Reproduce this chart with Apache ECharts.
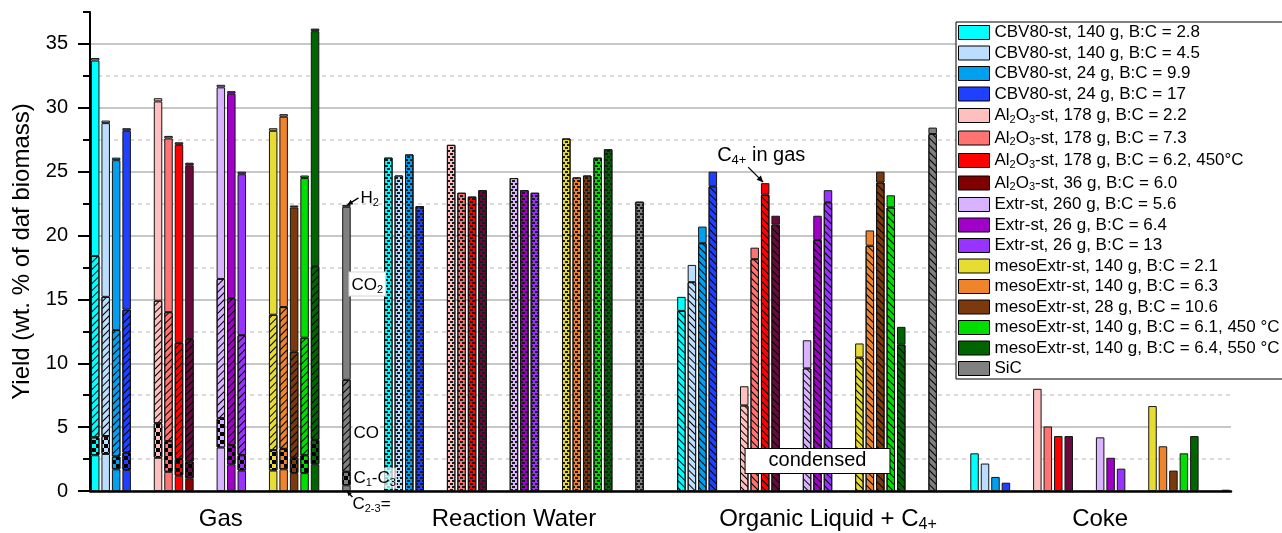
<!DOCTYPE html>
<html><head><meta charset="utf-8">
<script src="https://cdn.jsdelivr.net/npm/echarts@6/dist/echarts.min.js"></script>
<style>html,body{margin:0;padding:0;background:#fff}#c{width:1282px;height:533px}</style>
</head><body><div id="c"></div>
<script>
// ---------------- DATA ----------------
const catalysts = [
  'CBV80-st, 140 g, B:C = 2.8', 'CBV80-st, 140 g, B:C = 4.5', 'CBV80-st, 24 g, B:C = 9.9', 'CBV80-st, 24 g, B:C = 17',
  'Al2O3-st, 178 g, B:C = 2.2', 'Al2O3-st, 178 g, B:C = 7.3', 'Al2O3-st, 178 g, B:C = 6.2, 450°C', 'Al2O3-st, 36 g, B:C = 6.0',
  'Extr-st, 260 g, B:C = 5.6', 'Extr-st, 26 g, B:C = 6.4', 'Extr-st, 26 g, B:C = 13',
  'mesoExtr-st, 140 g, B:C = 2.1', 'mesoExtr-st, 140 g, B:C = 6.3', 'mesoExtr-st, 28 g, B:C = 10.6',
  'mesoExtr-st, 140 g, B:C = 6.1, 450 °C', 'mesoExtr-st, 140 g, B:C = 6.4, 550 °C', 'SiC'
];
const groups = ['Gas', 'Reaction Water', 'Organic Liquid + C4+', 'Coke'];
const yTickLabels = [0, 5, 10, 15, 20, 25, 30, 35];

// Gas composition (stacked, bottom to top)
const gasC23   = [2.8, 2.9, 1.7, 1.65, 2.6, 1.5, 1.2, 1.0, 3.4, 2.1, 1.6, 1.6, 1.7, 1.4, 1.4, 2.1, 0.45];
const gasC1C3  = [1.4, 1.4, 1.0, 1.35, 2.7, 2.4, 1.3, 1.3, 2.3, 1.5, 1.2, 1.6, 1.6, 1.2, 1.4, 1.9, 1.05];
const gasCO    = [14.2, 10.9, 9.9, 11.2, 9.6, 10.1, 9.1, 9.6, 10.9, 11.5, 9.4, 10.6, 11.1, 8.3, 9.2, 13.6, 7.2];
const gasCO2   = [15.3, 13.6, 13.3, 14.0, 15.6, 13.6, 15.5, 13.6, 15.0, 16.0, 12.6, 14.4, 14.9, 11.3, 12.5, 18.4, 13.55];
const gasH2    = [0.2, 0.2, 0.2, 0.2, 0.25, 0.2, 0.2, 0.2, 0.2, 0.2, 0.2, 0.2, 0.2, 0.15, 0.2, 0.2, 0.15];
// Reaction water
const water    = [26.1, 24.7, 26.35, 22.3, 27.1, 23.35, 23.05, 23.55, 24.5, 23.55, 23.35, 27.6, 24.55, 24.7, 26.1, 26.75, 22.65];
// Organic liquid: condensed + C4+ in gas
const olCondensed = [14.1, 16.35, 19.4, 23.85, 6.7, 18.15, 23.2, 20.85, 9.6, 19.65, 22.6, 10.45, 19.2, 24.15, 22.2, 11.45, 27.95];
const olC4Gas     = [1.1, 1.35, 1.3, 1.15, 1.5, 0.9, 0.9, 0.7, 2.2, 1.9, 0.95, 1.1, 1.2, 0.85, 0.95, 1.4, 0.5];
// Coke
const coke     = [2.95, 2.15, 1.1, 0.65, 8.0, 5.05, 4.3, 4.3, 4.2, 2.6, 1.75, 6.65, 3.5, 1.6, 2.95, 4.3, 0.1];

// ---------------- STYLE / LAYOUT ----------------
const barColors = ['#00FFFF', '#BBDDFF', '#00A0F0', '#2040FF', '#FFBFBF', '#FF7373', '#FF0000', '#6A0A3C',
  '#D9B3FF', '#A000C8', '#9933FF', '#E6DC32', '#F0842A', '#7A3A0E', '#00DD00', '#006400', '#808080'];
const legendColors = barColors.slice(); legendColors[7] = '#800000';
const slotInGroup = [0, 1, 2, 3, 6, 7, 8, 9, 12, 13, 14, 17, 18, 19, 20, 21, 24];
const groupStart = [0, 28, 56, 84];
const totalSlots = 109;
const labelSlots = [12, 40, 70, 96];
const FONT = 'Arial, "Liberation Sans", sans-serif';

const hatchFwd  = {symbol: 'rect', symbolSize: 1, dashArrayX: [1, 0], dashArrayY: [1, 4], rotation: -Math.PI / 4, color: '#000'};
const hatchBack = {symbol: 'rect', symbolSize: 1, dashArrayX: [1, 0], dashArrayY: [1, 4], rotation: Math.PI / 4, color: '#000'};
const checker   = {symbol: 'rect', symbolSize: 1, dashArrayX: [[4, 4], [0, 4, 4, 0]], dashArrayY: [4, 0], color: '#000'};
const wave      = {symbol: 'rect', symbolSize: 1, dashArrayX: [[3, 2], [0, 2, 3, 0]], dashArrayY: [2, 1], color: '#1a1a1a'};

const gs = (g, i) => groupStart[g] + slotInGroup[i];
const layers = [
  i => [[gs(0, i), i === 7 ? {value: gasC23[i], itemStyle: {color: '#8B0000'}} : {value: gasC23[i]}],
        [gs(1, i), {value: water[i], itemStyle: {decal: wave}}],
        [gs(2, i), {value: olCondensed[i], itemStyle: {decal: hatchBack}}],
        [gs(3, i), {value: coke[i]}]],
  i => [[gs(0, i), {value: gasC1C3[i], itemStyle: {decal: checker}}],
        [gs(2, i), {value: olC4Gas[i]}]],
  i => [[gs(0, i), {value: gasCO[i], itemStyle: {decal: hatchFwd}}]],
  i => [[gs(0, i), {value: gasCO2[i]}]],
  i => [[gs(0, i), {value: gasH2[i]}]]
];

const series = [];
layers.forEach(fn => {
  catalysts.forEach((name, i) => {
    const data = new Array(totalSlots).fill('-');
    fn(i).forEach(([s, item]) => { data[s] = item; });
    series.push({
      name, type: 'bar', stack: 'all', barWidth: 8.5, data, silent: true,
      itemStyle: {color: barColors[i], borderColor: '#151515', borderWidth: 1},
      emphasis: {disabled: true}
    });
  });
});

const slotNames = Array.from({length: totalSlots}, (_, k) => 's' + k);

const chart = echarts.init(document.getElementById('c'), null, {renderer: 'canvas'});
chart.setOption({
  animation: false,
  textStyle: {fontFamily: FONT},
  grid: {left: 90, right: 51, top: 12, bottom: 42, containLabel: false, outerBoundsMode: 'none'},
  legend: {
    orient: 'vertical', left: 956, top: 22, align: 'left',
    backgroundColor: '#fff', borderColor: '#000', borderWidth: 1, padding: [2, 4, 2, 2],
    itemWidth: 31, itemHeight: 14, itemGap: 3.5, itemTextGap: 5, selectedMode: false,
    icon: 'rect',
    data: catalysts.map((n, i) => ({name: n, itemStyle: {color: legendColors[i], borderColor: '#000', borderWidth: 1}})),
    formatter: n => n.replace('Al2O3', 'Al{s|2}O{s|3}'),
    textStyle: {fontSize: 17, color: '#000', lineHeight: 17, fontFamily: FONT,
      rich: {s: {fontSize: 11, lineHeight: 19, verticalAlign: 'bottom', fontFamily: FONT}}}
  },
  xAxis: {
    type: 'category', data: slotNames, boundaryGap: true,
    axisLine: {show: true, lineStyle: {color: '#000', width: 2.5}},
    axisTick: {show: false}, splitLine: {show: false},
    axisLabel: {
      interval: 0, fontSize: 24, color: '#000', margin: 14, lineHeight: 28, fontFamily: FONT,
      formatter: (v, idx) => { const k = labelSlots.indexOf(idx); return k >= 0 ? groups[k].replace('C4+', 'C{s|4+}') : ''; },
      rich: {s: {fontSize: 16, lineHeight: 28, verticalAlign: 'bottom', fontFamily: FONT}}
    }
  },
  yAxis: [{
    type: 'value', min: 0, max: 37.5, interval: 5,
    name: 'Yield (wt. % of daf biomass)', nameLocation: 'middle', nameGap: 53,
    nameTextStyle: {fontSize: 24, color: '#000', fontFamily: FONT},
    axisLine: {show: true, lineStyle: {color: '#000', width: 2}},
    axisTick: {show: true, length: 12, lineStyle: {color: '#000', width: 2}},
    axisLabel: {fontSize: 20, color: '#000', margin: 22, showMaxLabel: false, fontFamily: FONT,
      formatter: v => yTickLabels.indexOf(v) >= 0 ? String(v) : ''},
    splitLine: {show: true, showMaxLine: false, lineStyle: {color: '#b4b4b4', width: 1.5}}
  }, {
    type: 'value', min: 0, max: 37.5, interval: 2.5, position: 'left',
    axisLine: {show: false},
    axisTick: {show: true, length: 7, lineStyle: {color: '#000', width: 2}},
    axisLabel: {show: false},
    splitLine: {show: true, showMaxLine: false, lineStyle: {color: ['rgba(0,0,0,0)', '#cfcfcf'], type: [4, 4], width: 1.5}}
  }],
  series
});

// ---------------- ANNOTATIONS (positioned through the chart's scales) ----------------
const P = (s, v) => chart.convertToPixel({xAxisIndex: 0, yAxisIndex: 0}, [s, v]);
function arrow(x1, y1, x2, y2, head) {
  head = head || 6;
  const a = Math.atan2(y2 - y1, x2 - x1);
  const p1 = [x2 - head * Math.cos(a - 0.45), y2 - head * Math.sin(a - 0.45)];
  const p2 = [x2 - head * Math.cos(a + 0.45), y2 - head * Math.sin(a + 0.45)];
  return [
    {type: 'line', z: 100, shape: {x1, y1, x2, y2}, style: {stroke: '#000', lineWidth: 1.3}},
    {type: 'polygon', z: 100, shape: {points: [[x2, y2], p1, p2]}, style: {fill: '#000'}}
  ];
}
function txt(x, y, text, size, extra) {
  return {
    type: 'text', z: 101,
    style: Object.assign({
      x, y, text, fill: '#000', fontSize: size, fontFamily: FONT,
      align: 'left', verticalAlign: 'middle', textAlign: 'left', textVerticalAlign: 'middle',
      rich: {s: {fontSize: Math.round(size * 0.65), lineHeight: size + 4, verticalAlign: 'bottom', fontFamily: FONT}},
      lineHeight: size + 4
    }, extra || {})
  };
}
const sic = 16;
const sicSlot = gs(0, sic);
const sicTop = gasC23[sic] + gasC1C3[sic] + gasCO[sic] + gasCO2[sic] + gasH2[sic];
const pTop = P(sicSlot, sicTop);
const cx = pTop[0];
const p0 = P(sicSlot, 0);
const pCO2 = P(sicSlot, 16.2);
const pCO = P(sicSlot, 4.5);
const pC13 = P(sicSlot, 1.0);
const red = 6;
const redSlot = gs(2, red);
const pRed = P(redSlot, olCondensed[red] + olC4Gas[red]);
const pCond = P(groupStart[2] + 12.9, 2.35);

const graphics = [].concat(
  arrow(cx + 12, pTop[1] - 7, cx + 1, pTop[1], 6),
  [txt(cx + 14, pTop[1] - 7, 'H{s|2}', 17)],
  [txt(cx + 3, pCO2[1], 'CO{s|2}', 17, {backgroundColor: '#fff', borderColor: '#d6d6d6', borderWidth: 1, padding: [2, 2, 0, 2]})],
  [txt(cx + 6, pCO[1], 'CO', 17, {backgroundColor: '#fff', padding: [0, 1, 0, 1]})],
  [txt(cx + 6, pC13[1], 'C{s|1}-C{s|3}', 17, {backgroundColor: 'rgba(255,255,255,0.72)', padding: [0, 1, 0, 1]})],
  arrow(cx + 6, p0[1] + 6, cx + 0.5, p0[1] + 0.5, 5),
  [txt(cx + 6, p0[1] + 13, 'C{s|2-3}=', 17)],
  arrow(pRed[0] - 17, pRed[1] - 16, pRed[0] - 2, pRed[1] - 1, 7),
  [txt(pRed[0] - 48, pRed[1] - 28, 'C{s|4+} in gas', 20)],
  [{type: 'text', z: 101, style: {x: pCond[0], y: pCond[1], text: 'condensed', fill: '#000', fontSize: 20, fontFamily: FONT,
     align: 'center', verticalAlign: 'middle', textAlign: 'center', textVerticalAlign: 'middle',
     backgroundColor: '#fff', borderColor: '#000', borderWidth: 1, padding: [2, 23, 2, 23]}}]
);
chart.setOption({graphic: graphics});
</script>
</body></html>
